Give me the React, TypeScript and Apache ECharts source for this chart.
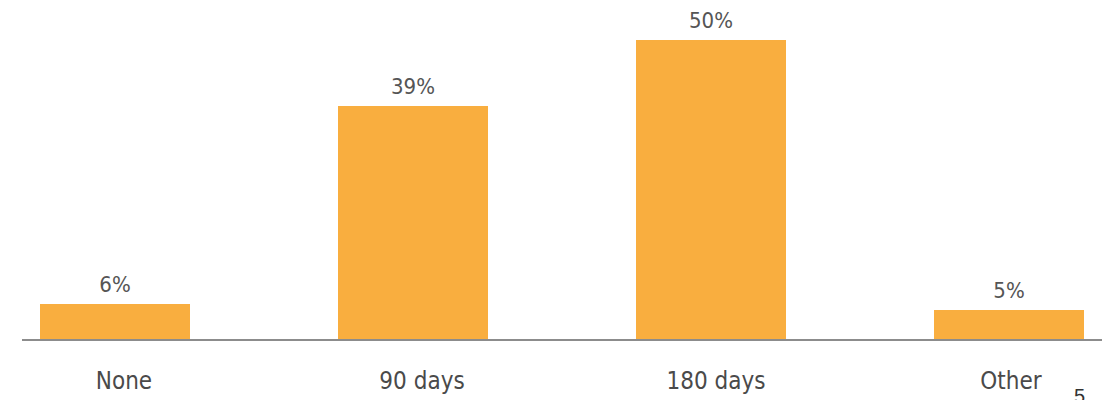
import React, { useEffect, useRef } from "react";
import * as echarts from "echarts";

const categories = ["None", "90 days", "180 days", "Other"];
const values = [6, 39, 50, 5];
const pageNumber = "5";

const FONT = "'Liberation Sans Narrow', 'DejaVu Sans Condensed', 'Arial Narrow', sans-serif";
const SHIFT = 34; // chart canvas extends beyond the left edge of the view
const labelNudge = [18, 18, 10, 4]; // left padding (px) per category label

export default function App() {
  const ref = useRef<HTMLDivElement>(null);
  useEffect(() => {
    document.body.style.margin = "0";
    document.body.style.overflow = "hidden";
    const chart = echarts.init(ref.current!, null, { renderer: "svg" });
    chart.setOption({
      animation: false,
      backgroundColor: "#ffffff",
      grid: { left: 0, right: 0, top: 40, bottom: 60, containLabel: false },
      xAxis: {
        type: "category",
        data: categories.map((c, i) => ({
          value: c,
          textStyle: { padding: [0, 0, 0, labelNudge[i]] },
        })),
        axisLine: { show: false },
        axisTick: { show: false },
        axisLabel: {
          color: "#4a4a4a",
          fontFamily: FONT,
          fontSize: 24,
          margin: 29,
        },
      },
      yAxis: {
        type: "value",
        min: 0,
        max: 50,
        show: false,
        splitLine: { show: false },
      },
      series: [
        {
          type: "bar",
          data: values,
          barWidth: 150,
          itemStyle: { color: "#F9AE3F" },
          label: {
            show: true,
            position: "top",
            distance: 9,
            formatter: "{c}%",
            color: "#555555",
            fontFamily: FONT,
            fontSize: 22,
          },
        },
      ],
      graphic: [
        {
          type: "line",
          shape: { x1: 22 + SHIFT, y1: 340, x2: 1102 + SHIFT, y2: 340 },
          style: { stroke: "#8c8c8c", lineWidth: 2 },
          z: 10,
        },
        {
          type: "text",
          x: 1074 + SHIFT,
          y: 386,
          style: {
            text: pageNumber,
            fill: "#333333",
            fontFamily: "'Liberation Sans', sans-serif",
            fontSize: 20,
          },
        },
      ],
    });
    return () => chart.dispose();
  }, []);
  return (
    <div style={{ width: 1112, height: 400, overflow: "hidden", position: "relative" }}>
      <div ref={ref} style={{ width: 1192, height: 400, marginLeft: -SHIFT }} />
    </div>
  );
}
